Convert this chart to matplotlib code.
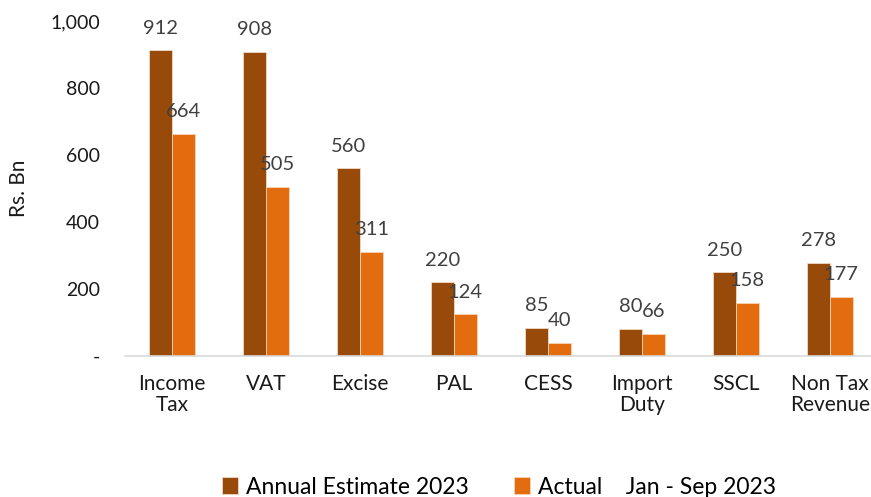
import matplotlib.pyplot as plt
import numpy as np
from matplotlib.ticker import FuncFormatter

# datos
categorias = ["Income\nTax", "VAT", "Excise", "PAL", "CESS", "Import\nDuty", "SSCL", "Non Tax\nRevenue"]
estimado = [912, 908, 560, 220, 85, 80, 250, 278]
actual = [664, 505, 311, 124, 40, 66, 158, 177]
serie1 = "Annual Estimate 2023"
serie2 = "Actual    Jan - Sep 2023"

plt.rcParams["font.family"] = ["Lato", "DejaVu Sans"]

fig = plt.figure(figsize=(8.71, 4.97), dpi=100)
ax = fig.add_axes([125 / 871, 1 - 356 / 497, 752 / 871, 335 / 497])

x = np.arange(len(categorias))
w = 0.24
b1 = ax.bar(x - w / 2, estimado, w, color="#974A09", edgecolor="#F2D9C4", linewidth=0.6, label=serie1)
b2 = ax.bar(x + w / 2, actual, w, color="#E26C0E", edgecolor="#F7D3B5", linewidth=0.6, label=serie2)

for barras, vals in [(b1, estimado), (b2, actual)]:
    for r, v in zip(barras, vals):
        ax.annotate(str(v), (r.get_x() + r.get_width() / 2, v), xytext=(0, 16),
                    textcoords="offset points", ha="center", va="center",
                    fontsize=14.5, color="#404040")

ax.set_xlim(-0.5, len(categorias) - 0.5)
ax.set_ylim(0, 1000)
ax.set_yticks([0, 200, 400, 600, 800, 1000])
ax.yaxis.set_major_formatter(FuncFormatter(lambda v, p: "-" if v == 0 else f"{int(v):,}"))
ax.set_xticks(x)
ax.set_xticklabels(categorias, fontsize=15, color="#1a1a1a", linespacing=1.05)
ax.tick_params(axis="y", length=0, pad=18, labelsize=14, labelcolor="#1a1a1a")
ax.tick_params(axis="x", length=0, pad=13)

for s in ["top", "right", "left"]:
    ax.spines[s].set_visible(False)
ax.spines["bottom"].set_color("#D9D9D9")
ax.spines["bottom"].set_linewidth(1.2)

ax.set_ylabel("Rs. Bn", fontsize=15, color="#1a1a1a")
ax.yaxis.set_label_coords(-(125 - 29) / 752, 0.5)

fig.legend(handles=[b1, b2], loc="center", bbox_to_anchor=(499 / 871, 1 - 487 / 497), ncol=2,
           frameon=False, fontsize=16.5, handlelength=0.7, handleheight=0.7,
           handletextpad=0.35, columnspacing=2.0)

fig.savefig("out.png", dpi=100)
